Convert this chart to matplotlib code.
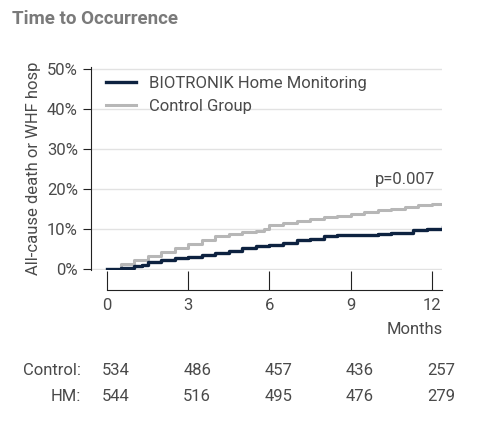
import matplotlib
matplotlib.use("Agg")
import matplotlib.pyplot as plt

months_ctrl = [0, 0.5, 1, 1.5, 2, 2.5, 3, 3.5, 4, 4.5, 5, 5.5, 5.8, 6, 6.5, 7, 7.5, 8, 8.5, 9, 9.5, 10, 10.5, 11, 11.5, 12, 12.4]
ctrl = [0, 1.2, 2.3, 3.2, 4.3, 5.3, 6.3, 7.3, 8.2, 8.8, 9.2, 9.4, 10.0, 11.0, 11.5, 12.0, 12.5, 12.9, 13.3, 13.8, 14.3, 14.8, 15.1, 15.5, 15.9, 16.2, 16.3]
months_hm = [0, 0.5, 1, 1.3, 1.5, 2, 2.5, 3, 3.5, 4, 4.5, 5, 5.5, 6, 6.5, 7, 7.5, 8, 8.5, 9, 9.5, 10, 10.5, 11, 11.3, 11.8, 12.4]
hm = [0, 0.3, 0.7, 1.0, 1.7, 2.2, 2.6, 3.0, 3.4, 3.9, 4.5, 5.2, 5.8, 6.1, 6.6, 7.3, 7.5, 8.2, 8.4, 8.5, 8.6, 8.7, 8.9, 9.0, 9.7, 10.0, 10.5]
xticks = [0, 3, 6, 9, 12]
risk_ctrl = [534, 486, 457, 436, 257]
risk_hm = [544, 516, 495, 476, 279]

plt.rcParams['font.family'] = ['Roboto', 'DejaVu Sans']
tc = '#4a4a4a'
fig = plt.figure(figsize=(5, 4.24), dpi=100)
ax = fig.add_axes([0.182, 0.363, 0.702, 0.479])
ax.set_xlim(-0.59, 12.37)
ax.set_ylim(-0.3, 50.5)
ax.step(months_ctrl, ctrl, where='post', color='#b7b7b7', lw=2.2, label='Control Group')
ax.step(months_hm, hm, where='post', color='#0d2240', lw=2.4, label='BIOTRONIK Home Monitoring')
for g in [10, 20, 30, 40, 50]:
    ax.axhline(g, color='#e2e2e2', lw=1, zorder=0)
ax.axhline(0, color='#e2e2e2', lw=1, zorder=0)
h, l = ax.get_legend_handles_labels()
ax.legend(h[::-1], l[::-1], loc='upper left', bbox_to_anchor=(0.0, 1.03), frameon=False, fontsize=12, labelcolor=tc, handlelength=1.8)
ax.set_yticks([0, 10, 20, 30, 40, 50])
ax.set_yticklabels([f'{v}%' for v in [0, 10, 20, 30, 40, 50]])
ax.set_xticks(xticks)
ax.spines['top'].set_visible(False)
ax.spines['right'].set_visible(False)
ax.spines['bottom'].set_position(('outward', 14))
ax.spines['bottom'].set_bounds(0, 12.37)
for s in ['left', 'bottom']:
    ax.spines[s].set_color('#222222')
ax.tick_params(axis='y', colors=tc, labelsize=12, length=6, color='#222222')
ax.tick_params(axis='x', colors=tc, labelsize=12, direction='in', length=14, color='#222222', pad=6)
ax.set_ylabel('All-cause death or WHF hosp', color=tc, fontsize=12)
ax.text(12.1, 20.5, 'p=0.007', ha='right', va='bottom', color=tc, fontsize=12)
fig.text(0.885, 0.222, 'Months', ha='right', va='center', color=tc, fontsize=12)
fig.text(0.025, 0.955, 'Time to Occurrence', color='#7a7a7a', fontsize=13.5, fontweight='bold', va='center')
for i, x in enumerate(xticks):
    xd = ax.transData.transform((x, 0))[0] / 500 + 0.018
    fig.text(xd, 0.127, str(risk_ctrl[i]), ha='center', va='center', color=tc, fontsize=12)
    fig.text(xd, 0.066, str(risk_hm[i]), ha='center', va='center', color=tc, fontsize=12)
fig.text(0.162, 0.127, 'Control:', ha='right', va='center', color=tc, fontsize=12)
fig.text(0.162, 0.066, 'HM:', ha='right', va='center', color=tc, fontsize=12)
fig.savefig('out.png', dpi=100)
